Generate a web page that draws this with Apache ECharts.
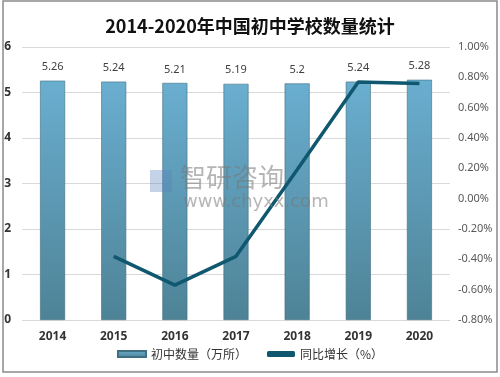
<!DOCTYPE html>
<html><head><meta charset="utf-8">
<script src="https://cdn.jsdelivr.net/npm/echarts@6/dist/echarts.min.js"></script>
<style>html,body{margin:0;padding:0;background:#fff}#c{width:500px;height:377px}</style>
</head><body><div id="c"></div>
<script>
var categories = ['2014','2015','2016','2017','2018','2019','2020'];
var schoolCount = [5.26, 5.24, 5.21, 5.19, 5.2, 5.24, 5.28];
var growthRate = [null, -0.38, -0.57, -0.38, 0.19, 0.77, 0.76];
var titleText = '2014-2020年中国初中学校数量统计';
var seriesNames = ['初中数量（万所）', '同比增长（%）'];

var chart = echarts.init(document.getElementById('c'));
chart.setOption({
  animation: false,
  title: {text: titleText, left: 'center', top: 12,
    textStyle: {fontFamily: 'Noto Sans CJK SC', fontSize: 18, fontWeight: 'bold', color: '#111'}},
  graphic: [
    {type: 'rect', shape: {x: 3, y: 1, width: 494, height: 371}, style: {fill: 'none', stroke: '#8a8a8a', lineWidth: 1.5}, silent: true},
    {type: 'text', left: 180, top: 164, z: 100, style: {text: '智研咨询', fill: 'rgba(120,120,120,0.55)', font: '26px "Noto Sans CJK SC"'}},
    {type: 'text', left: 183, top: 193, z: 100, style: {text: 'www.chyxx.com', fill: 'rgba(120,120,120,0.55)', font: '18px "DejaVu Sans"'}},
    {type: 'rect', left: 150, top: 170, z: 100, shape: {width: 22, height: 22}, style: {fill: 'rgba(90,130,190,0.35)'}}
  ],
  grid: {left: 22, right: 50, top: 47, bottom: 57},
  legend: {bottom: 12, left: 'center', itemGap: 20, itemWidth: 28, itemHeight: 6,
    textStyle: {fontFamily: 'Noto Sans CJK SC', fontSize: 12, color: '#333'},
    data: [{name: seriesNames[0], icon: 'rect'}, {name: seriesNames[1], icon: 'roundRect'}]},
  xAxis: {type: 'category', data: categories,
    axisLine: {show: false}, axisTick: {show: false},
    axisLabel: {fontWeight: 'bold', fontSize: 12, color: '#333', margin: 11, fontFamily: 'Noto Sans'}},
  yAxis: [
    {type: 'value', min: 0, max: 6, interval: 1,
      axisLabel: {fontWeight: 'bold', fontSize: 12, color: '#333', fontFamily: 'Noto Sans', margin: 11},
      splitLine: {lineStyle: {color: '#d9d9d9'}}, axisLine: {show: false}, axisTick: {show: false}},
    {type: 'value', min: -0.8, max: 1.0, interval: 0.2, position: 'right',
      axisLabel: {fontSize: 11, color: '#595959', fontFamily: 'Noto Sans', margin: 8,
        formatter: function(v){return v.toFixed(2) + '%';}},
      splitLine: {show: false}, axisLine: {show: false}, axisTick: {show: false}}
  ],
  series: [
    {name: seriesNames[0], type: 'bar', data: schoolCount, barWidth: 25,
      itemStyle: {color: new echarts.graphic.LinearGradient(0,0,0,1,[{offset:0,color:'#6aaed0'},{offset:1,color:'#4e8396'}]),
        borderColor: '#3f6f80', borderWidth: 0.6},
      label: {show: true, position: 'top', fontSize: 11, color: '#404040', fontFamily: 'Noto Sans', distance: 8}},
    {name: seriesNames[1], type: 'line', yAxisIndex: 1, data: growthRate, symbol: 'none',
      lineStyle: {color: '#0f5870', width: 3.5}, itemStyle: {color: '#0f5870'}}
  ]
});
</script></body></html>
